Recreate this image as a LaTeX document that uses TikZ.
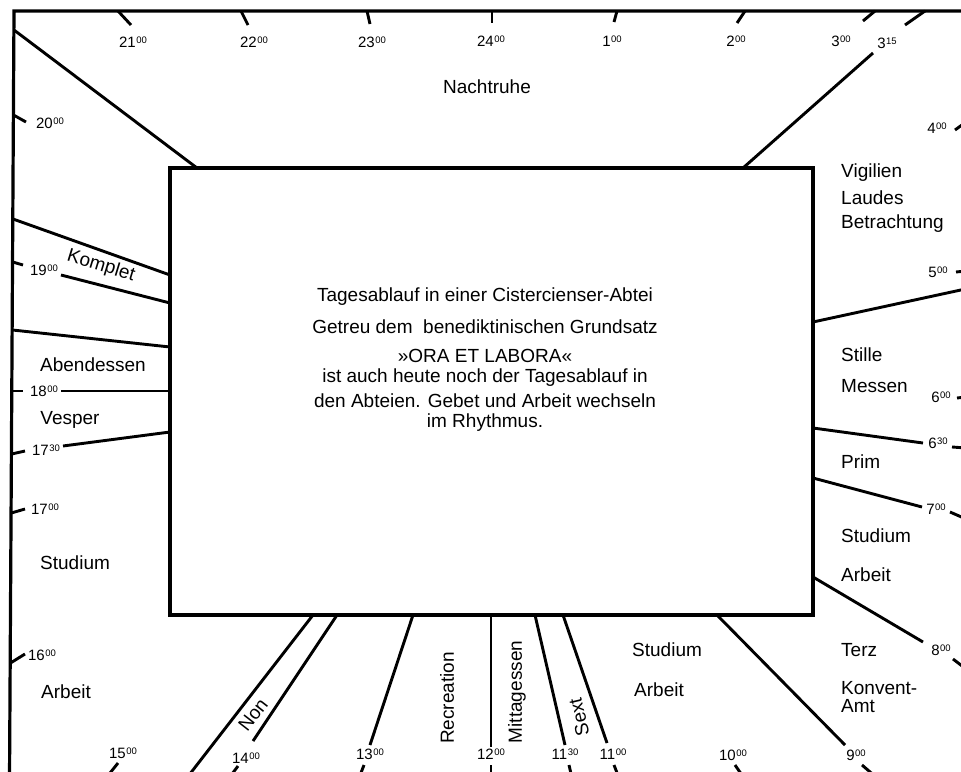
\documentclass[tikz,border=0pt]{standalone}
\usepackage{fontspec}
\setmainfont{Liberation Sans}
\newcommand\hh[2]{{\fontsize{15}{15}\selectfont #1}\kern0.6pt{\fontsize{9.5}{9.5}\selectfont\raisebox{4pt}{#2}}}
\tikzset{
  frame/.style={line width=3.2pt, line cap=round},
  seg/.style={line width=2.9pt},
  tick/.style={line width=2.9pt},
  hour/.style={inner sep=0pt, anchor=center},
  lbl/.style={inner sep=0pt, font=\fontsize{19}{20}\selectfont},
  lbll/.style={lbl, anchor=west},
  body/.style={inner sep=0pt, font=\fontsize{19}{20}\selectfont}
}
\begin{document}
\begin{tikzpicture}[x=1pt,y=-1pt]
\useasboundingbox (0,0) rectangle (961,771);
\clip (0,0) rectangle (961,771);
\fill[white] (0,0) rectangle (961,771);
% outer frame
\draw[frame] (970,11) -- (14,11) -- (9.5,780);
% central box
\draw[frame] (170,168) rectangle (813,615);
% top ticks
\draw[tick] (118,11) -- (131,25);
\draw[tick] (241,11) -- (248,25);
\draw[tick] (367,11) -- (370,24);
\draw[tick] (492,11) -- (492,23);
\draw[tick] (617,11) -- (614,22);
\draw[tick] (745,11) -- (737,23);
\draw[tick] (875,11) -- (863,21);
\draw[tick] (925,11) -- (905,25);
% left ticks
\draw[tick] (13.5,115) -- (26,122);
\draw[tick] (12.7,262) -- (23,265);
\draw[tick] (12,391) -- (23,391);
\draw[tick] (11.7,454) -- (25,451);
\draw[tick] (11.3,513) -- (25,509);
\draw[tick] (10.5,663) -- (25,654);
% right ticks
\draw[tick] (966,122) -- (955,130);
\draw[tick] (966,271) -- (956,272);
\draw[tick] (966,397) -- (957,398);
\draw[tick] (966,448) -- (952,447);
\draw[tick] (966,519) -- (950,512);
\draw[tick] (966,669) -- (953,659);
% bottom ticks
\draw[tick] (106,778) -- (118,763);
\draw[tick] (229,778) -- (238,766);
\draw[tick] (359,778) -- (364,765);
\draw[tick] (491,778) -- (491,765);
\draw[tick] (572,778) -- (569,765);
\draw[tick] (619,778) -- (614,765);
\draw[tick] (744,778) -- (735,765);
\draw[tick] (877,778) -- (862,765);
% division lines
\draw[seg] (14,30) -- (197,168);
\draw[seg] (743,168) -- (873,53);
\draw[seg] (13,219) -- (170,275);
\draw[seg] (61,275) -- (170,303);
\draw[seg] (12.5,330) -- (170,347);
\draw[seg] (61,391) -- (170,391);
\draw[seg] (63,446) -- (170,432);
\draw[seg] (313,615) -- (186,779);
\draw[seg] (337,615) -- (253,741);
\draw[seg] (413,615) -- (370,745);
\draw[seg] (491,615) -- (491,747);
\draw[seg] (535,615) -- (565,745);
\draw[seg] (563,615) -- (607,743);
\draw[seg] (717,615) -- (845,745);
\draw[seg] (813,577) -- (923,642);
\draw[seg] (813,478) -- (922,507);
\draw[seg] (813,428) -- (923,443);
\draw[seg] (813,322) -- (970,288);
% hour labels
\node[hour] (h21) at (133,42) {\hh{21}{00}};
\node[hour] (h22) at (254,42) {\hh{22}{00}};
\node[hour] (h23) at (372,42) {\hh{23}{00}};
\node[hour] (h24) at (491,41) {\hh{24}{00}};
\node[hour] (h1) at (612,41) {\hh{1}{00}};
\node[hour] (h2) at (736,41) {\hh{2}{00}};
\node[hour] (h3) at (841,41) {\hh{3}{00}};
\node[hour] (h315) at (887,43) {\hh{3}{15}};
\node[hour] (h20) at (50,123) {\hh{20}{00}};
\node[hour] (h4) at (937,128) {\hh{4}{00}};
\node[hour] (h19) at (44,270) {\hh{19}{00}};
\node[hour] (h5) at (938,272) {\hh{5}{00}};
\node[hour] (h18) at (44,391) {\hh{18}{00}};
\node[hour] (h6) at (941,397) {\hh{6}{00}};
\node[hour] (h1730) at (46,450) {\hh{17}{30}};
\node[hour] (h630) at (938,443) {\hh{6}{30}};
\node[hour] (h17) at (45,509) {\hh{17}{00}};
\node[hour] (h7) at (936,509) {\hh{7}{00}};
\node[hour] (h16) at (42,655) {\hh{16}{00}};
\node[hour] (h8) at (941,650) {\hh{8}{00}};
\node[hour] (h15) at (123,753) {\hh{15}{00}};
\node[hour] (h14) at (246,758) {\hh{14}{00}};
\node[hour] (h13) at (370,754) {\hh{13}{00}};
\node[hour] (h12) at (491,754) {\hh{12}{00}};
\node[hour] (h1130) at (565,754) {\hh{11}{30}};
\node[hour] (h11) at (613,754) {\hh{11}{00}};
\node[hour] (h10) at (733,755) {\hh{10}{00}};
\node[hour] (h9) at (856,755) {\hh{9}{00}};
% activity labels
\node[lbl] (nacht) at (487,87) {Nachtruhe};
\node[lbll] (vig) at (841,173) {Vigilien};
\node[lbll] (laud) at (841,198) {Laudes};
\node[lbll] (betr) at (841,224) {Betrachtung};
\node[lbl, rotate=-17] (kompl) at (101,266) {Komplet};
\node[lbl] (abend) at (93,365) {Abendessen};
\node[lbl] (vesp) at (70,420) {Vesper};
\node[lbll] (studl) at (40,563) {Studium};
\node[lbll] (arbl) at (41,692) {Arbeit};
\node[lbll] (still) at (841,355) {Stille};
\node[lbll] (mess) at (841,386) {Messen};
\node[lbll] (prim) at (841,462) {Prim};
\node[lbll] (studr) at (841,536) {Studium};
\node[lbll] (arbr) at (841,575) {Arbeit};
\node[lbll] (terz) at (841,650) {Terz};
\node[lbll] (konv) at (841,688) {Konvent-};
\node[lbll] (amt) at (841,706) {Amt};
\node[lbll] (studm) at (632,650) {Studium};
\node[lbll] (arbm) at (634,690) {Arbeit};
\node[lbl, rotate=52] (non) at (253,715) {Non};
\node[lbl, rotate=90] (recr) at (447,698) {Recreation};
\node[lbl, rotate=90] (mitt) at (517,692) {Mittagessen};
\node[lbl, rotate=103] (sext) at (579,717) {Sext};
% central text
\node[body] (t1) at (485,297) {Tagesablauf in einer Cistercienser-Abtei};
\node[body] (t2) at (485,327) {Getreu dem \ benediktinischen Grundsatz};
\node[body] (t3) at (485,356) {»ORA ET LABORA«};
\node[body] (t4) at (485,378) {ist auch heute noch der Tagesablauf in};
\node[body] (t5) at (485,401) {den Abteien. Gebet und Arbeit wechseln};
\node[body] (t6) at (485,423) {im Rhythmus.};
\end{tikzpicture}
\end{document}
